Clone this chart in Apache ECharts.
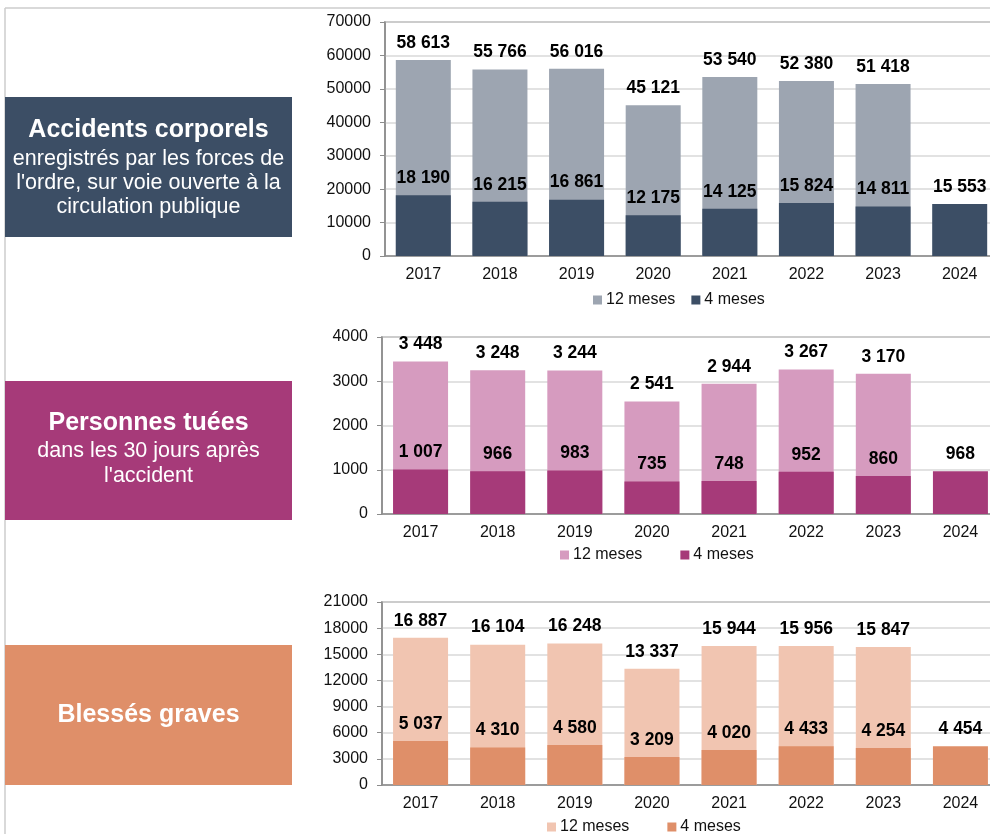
<!DOCTYPE html>
<html>
<head>
<meta charset="utf-8">
<script src="https://cdn.jsdelivr.net/npm/echarts@6/dist/echarts.min.js"></script>
<style>
html,body{margin:0;padding:0;background:#fff;overflow:hidden;}
#c{width:1020px;height:834px;}
</style>
</head>
<body>
<div id="c"></div>
<script>
// ---- data ----
const years = ['2017','2018','2019','2020','2021','2022','2023','2024'];
const legendNames = ['12 meses','4 meses'];

const acc12 = [58613, 55766, 56016, 45121, 53540, 52380, 51418, null];
const acc4  = [18190, 16215, 16861, 12175, 14125, 15824, 14811, 15553];

const tues12 = [3448, 3248, 3244, 2541, 2944, 3267, 3170, null];
const tues4  = [1007, 966, 983, 735, 748, 952, 860, 968];

const bles12 = [16887, 16104, 16248, 13337, 15944, 15956, 15847, null];
const bles4  = [5037, 4310, 4580, 3209, 4020, 4433, 4254, 4454];

const yMax = [70000, 4000, 21000];
const yInterval = [10000, 1000, 3000];

// ---- styles ----
const FONT = 'Liberation Sans, Arial, sans-serif';
const colors = [
  {dark:'#3C4E65', light:'#9DA5B1'},
  {dark:'#A63A79', light:'#D69BBF'},
  {dark:'#DF8F69', light:'#F1C5B1'}
];
const grids = [
  {left:385, top:22, width:613, height:234},
  {left:382, top:337, width:617, height:177},
  {left:382, top:602, width:617, height:183}
];
const legends = [
  {left:588, top:287, itemGap:16},
  {left:555, top:542, itemGap:38},
  {left:542, top:814, itemGap:38}
];

function fmt(p){
  if (p.value == null) return '';
  return String(p.value).replace(/\B(?=(\d{3})+(?!\d))/g, ' ');
}

const datasets = [[acc12, acc4],[tues12, tues4],[bles12, bles4]];

const xAxis = [], yAxis = [], series = [], legend = [];
datasets.forEach((d, i) => {
  xAxis.push({
    type:'category', gridIndex:i, data:years,
    axisLine:{lineStyle:{color:'#8c8c8c', width:1.5}},
    axisTick:{show:false},
    axisLabel:{color:'#111', fontSize:16, fontFamily:FONT, margin:11}
  });
  yAxis.push({
    type:'value', gridIndex:i, min:0, max:yMax[i], interval:yInterval[i],
    axisLine:{show:true, lineStyle:{color:'#8c8c8c', width:1.5}},
    axisTick:{show:true, length:5, lineStyle:{color:'#8c8c8c'}},
    axisLabel:{color:'#111', fontSize:16, fontFamily:FONT, margin:14,
      formatter:v => String(v)},
    splitLine:{show:true, lineStyle:{color:'#d9d9d9', width:1.5}}
  });
  const lbl = {show:true, position:'top', distance:8, formatter:fmt,
    color:'#000', fontSize:17.5, fontWeight:'bold', fontFamily:FONT};
  series.push({
    name:legendNames[0], type:'bar', xAxisIndex:i, yAxisIndex:i,
    data:d[0], barWidth:55, barGap:'-100%',
    itemStyle:{color:colors[i].light}, label:lbl, silent:true, z:2
  });
  series.push({
    name:legendNames[1], type:'bar', xAxisIndex:i, yAxisIndex:i,
    data:d[1], barWidth:55, barGap:'-100%',
    itemStyle:{color:colors[i].dark}, label:lbl, silent:true, z:3
  });
  legend.push({
    left:legends[i].left, top:legends[i].top, itemGap:legends[i].itemGap,
    itemWidth:9, itemHeight:9, icon:'rect', selectedMode:false,
    textStyle:{color:'#111', fontSize:16, fontFamily:FONT, padding:[0,0,0,-1]},
    data:[
      {name:legendNames[0], itemStyle:{color:colors[i].light}},
      {name:legendNames[1], itemStyle:{color:colors[i].dark}}
    ]
  });
});

const boxes = [
  {y:97, h:140, color:colors[0].dark,
   lines:[{t:'Accidents corporels', y:130, bold:true},
          {t:'enregistrés par les forces de', y:159},
          {t:"l'ordre, sur voie ouverte à la", y:183},
          {t:'circulation publique', y:207}]},
  {y:381, h:139, color:colors[1].dark,
   lines:[{t:'Personnes tuées', y:423, bold:true},
          {t:'dans les 30 jours après', y:451},
          {t:"l'accident", y:476}]},
  {y:645, h:140, color:colors[2].dark,
   lines:[{t:'Blessés graves', y:715, bold:true}]}
];

const graphic = [
  {type:'line', shape:{x1:5, y1:8, x2:1020, y2:8}, style:{stroke:'#cccccc', lineWidth:1.5}, z:0},
  {type:'line', shape:{x1:5, y1:8, x2:5, y2:834}, style:{stroke:'#cccccc', lineWidth:1.5}, z:0}
];
boxes.forEach(b => {
  graphic.push({type:'rect', shape:{x:5, y:b.y, width:287, height:b.h}, style:{fill:b.color}, z:1});
  b.lines.forEach(l => {
    graphic.push({type:'text', x:148.5, y:l.y, z:2,
      style:{text:l.t, fill:'#fff', align:'center', verticalAlign:'middle',
        fontSize:l.bold?25:21.5, fontWeight:l.bold?'bold':'normal', fontFamily:FONT}});
  });
});

const chart = echarts.init(document.getElementById('c'));
chart.setOption({
  animation:false,
  backgroundColor:'#fff',
  grid: grids.map(g => Object.assign({show:true, borderColor:'#8c8c8c', borderWidth:1.5, backgroundColor:'transparent', containLabel:false}, g)),
  xAxis, yAxis, series, legend, graphic
});
</script>
</body>
</html>
